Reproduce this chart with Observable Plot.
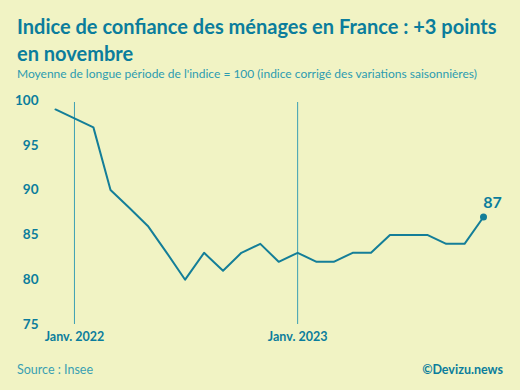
<!DOCTYPE html>
<html>
<head>
<meta charset="utf-8">
<script src="https://cdn.jsdelivr.net/npm/d3@7"></script>
<script src="https://cdn.jsdelivr.net/npm/@observablehq/plot@0.6"></script>
<style>
  html, body { margin: 0; padding: 0; background: #f1f3c4; }
  body { width: 520px; height: 390px; overflow: hidden; font-family: Lato, "Open Sans", sans-serif; color: #0b7d9c; }
  #title { position: absolute; left: 17px; top: 13px; width: 500px; font-size: 20px; font-weight: 700; line-height: 27px; color: #0b7d9c; }
  #subtitle { position: absolute; left: 17px; top: 66px; font-size: 12px; color: #2c9bb0; }
  #chart { position: absolute; left: 0; top: 85px; }
  #source { position: absolute; left: 17px; top: 362px; font-size: 12.5px; color: #3a9fb2; }
  #credit { position: absolute; right: 17px; top: 362px; font-size: 12.5px; font-weight: 700; color: #0b7d9c; }
</style>
</head>
<body>
<div id="title">Indice de confiance des ménages en France : +3 points en novembre</div>
<div id="subtitle">Moyenne de longue période de l'indice = 100 (indice corrigé des variations saisonnières)</div>
<div id="chart"></div>
<div id="source">Source : Insee</div>
<div id="credit">©Devizu.news</div>
<script>
const months = ["2021-12","2022-01","2022-02","2022-03","2022-04","2022-05","2022-06","2022-07","2022-08","2022-09","2022-10","2022-11","2022-12","2023-01","2023-02","2023-03","2023-04","2023-05","2023-06","2023-07","2023-08","2023-09","2023-10","2023-11"];
const values = [99,98,97,90,88,86,83,80,83,81,83,84,82,83,82,82,83,83,85,85,85,84,84,87];
const yTicks = [75,80,85,90,95,100];
const xTickMonths = ["2022-01","2023-01"];
const xTickLabels = ["Janv. 2022","Janv. 2023"];

const data = months.map((m, i) => ({date: new Date(m + "-01T00:00:00Z"), value: values[i]}));
const xTicks = xTickMonths.map(m => new Date(m + "-01T00:00:00Z"));
const last = data[data.length - 1];
const teal = "#0b7d9c";
const lineColor = "#147e98";

const chart = Plot.plot({
  width: 520,
  height: 265,
  marginLeft: 55,
  marginRight: 37,
  marginTop: 15,
  marginBottom: 26,
  style: {background: "transparent", fontFamily: "Lato, 'Open Sans', sans-serif", color: teal},
  x: {type: "utc", domain: [data[0].date, last.date], label: null},
  y: {domain: [75, 100], label: null},
  marks: [
    Plot.ruleX(xTicks, {x: d => d, y1: 75, y2: 100, stroke: "#3d9fb3", strokeWidth: 1, insetBottom: -2}),
    Plot.axisY({ticks: yTicks, tickSize: 0, tickPadding: 17, fontSize: 13.5, fontWeight: 700, fill: teal, label: null}),
    Plot.axisX({ticks: xTicks, tickSize: 0, tickPadding: 8, fontSize: 12.5, fontWeight: 700, fill: teal, label: null,
      tickFormat: d => xTickLabels[xTicks.findIndex(t => +t === +d)]}),
    Plot.lineY(data, {x: "date", y: "value", stroke: lineColor, strokeWidth: 2}),
    Plot.dot([last], {x: "date", y: "value", r: 3.5, fill: lineColor}),
    Plot.text([last], {x: "date", y: "value", text: d => String(d.value), dx: 9, dy: -14, fontSize: 16, fontWeight: 700, fill: teal})
  ]
});
document.getElementById("chart").appendChild(chart);
</script>
</body>
</html>
